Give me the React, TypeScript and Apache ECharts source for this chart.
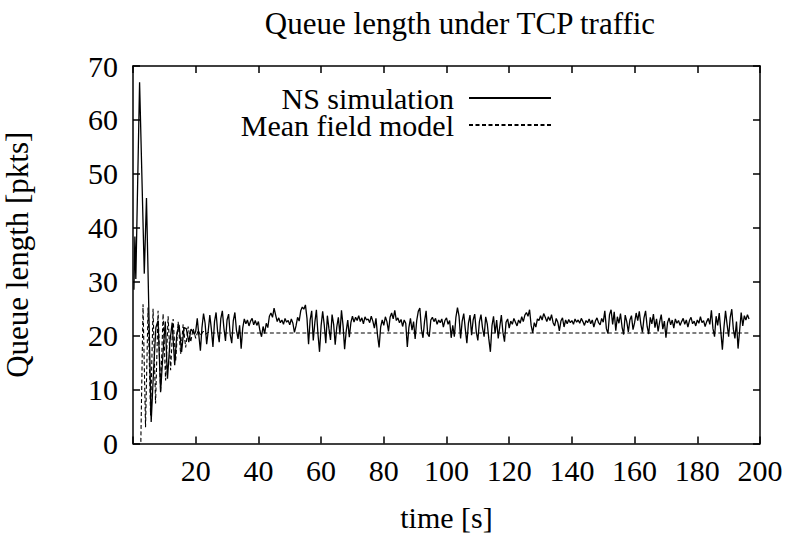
import React, { useEffect, useRef } from "react";
import * as echarts from "echarts";

const titleText = "Queue length under TCP traffic";
const xAxisName = "time [s]";
const yAxisName = "Queue length [pkts]";
const seriesNames = ["NS simulation", "Mean field model"];

const xMin = 0;
const xMax = 200;
const xStep = 20;
const yMin = 0;
const yMax = 70;
const yStep = 10;

// NS simulation: start-up transient (irregular sample times)
const nsTransientTime = [0.3, 0.6, 0.9, 2.1, 3.6, 4.3, 5.8, 6.6, 7.3, 8.0, 8.8, 9.6, 10.3, 11.0, 11.8, 12.5, 13.3, 14.0, 14.7, 15.5, 16.3, 17.0, 17.8, 18.5, 19.2, 19.6];
const nsTransientValue = [28.5, 38.4, 30.5, 67.0, 31.5, 45.5, 4.0, 14.0, 21.5, 22.8, 9.5, 17.0, 22.6, 12.0, 19.0, 22.4, 14.5, 20.5, 22.0, 17.0, 21.5, 21.3, 18.8, 21.2, 20.7, 20.2];

// NS simulation: steady part, one sample every 0.5 s from t = 20 s
const nsSteadyStart = 20;
const nsSteadyStep = 0.5;
const nsSteadyValue = [
  20.8, 23.2, 20.1, 17.2, 21.5, 24.1, 22.3, 18.4, 20.9, 23.8, 21.2, 17.9, 22.6, 24.3, 20.7, 18.8, 23.1, 24.6, 21.4, 19.0,
  22.9, 24.0, 20.2, 18.6, 22.8, 24.3, 21.0, 19.4, 21.9, 17.6, 21.4, 23.1, 22.2, 22.9, 21.8, 22.7, 23.2, 22.0, 22.8, 21.9,
  22.6, 20.9, 19.8, 21.7, 20.4, 22.3, 21.5, 23.6, 24.2, 23.4, 25.1, 23.8, 22.6, 23.3, 22.4, 22.9, 22.1, 23.2, 22.5, 22.8,
  22.0, 23.1, 22.3, 20.6, 21.8, 23.4, 22.7, 24.6, 25.3, 24.9, 25.7, 23.2, 18.4, 22.9, 24.6, 19.1, 22.4, 24.8, 20.3, 17.0,
  21.8, 24.5, 22.0, 18.6, 23.7, 21.3, 19.2, 23.9, 22.1, 18.3, 21.6, 23.4, 20.2, 24.7, 21.9, 17.5, 20.8, 22.9, 19.7, 22.4,
  23.6, 22.5, 23.4, 22.8, 23.7, 22.6, 23.3, 22.2, 23.5, 22.9, 23.1, 22.4, 23.6, 22.7, 21.4, 23.2, 20.1, 17.8, 21.6, 22.9,
  21.9, 23.5, 22.6, 20.8, 23.4, 24.2, 23.1, 24.7, 22.8, 23.3, 22.4, 23.0, 21.7, 22.9, 22.3, 17.9, 21.5, 23.2, 21.0, 22.6,
  19.4, 22.8, 24.5, 25.1, 21.2, 19.6, 22.7, 24.6, 20.3, 19.8, 22.9, 23.4, 22.6, 23.2, 22.1, 22.9, 22.4, 23.1, 21.6, 22.8,
  23.3, 22.1, 22.8, 19.6, 21.9, 19.8, 23.4, 25.2, 23.6, 19.5, 22.7, 24.1, 21.2, 18.6, 22.3, 23.8, 20.1, 22.9, 24.0, 20.7,
  19.1, 22.6, 23.9, 21.4, 19.8, 23.5, 22.2, 19.4, 17.0, 21.8, 23.6, 20.4, 22.9, 19.5, 21.7, 23.8, 20.6, 18.9, 22.5, 23.1,
  21.4, 22.7, 22.1, 23.2, 22.5, 21.8, 22.9, 22.3, 23.5, 22.6, 23.8, 24.3, 23.6, 24.8, 21.9, 20.5, 22.4, 21.6, 23.1, 22.8,
  23.7, 22.9, 24.1, 23.4, 22.6, 23.5, 22.8, 23.9, 22.4, 21.8, 23.2, 22.5, 20.9, 22.7, 23.3, 21.6, 22.9, 22.2, 23.0, 22.4,
  22.8, 22.1, 23.1, 22.5, 22.9, 22.3, 23.2, 22.6, 21.9, 22.8, 22.4, 23.1, 22.2, 22.9, 21.6, 22.7, 23.3, 22.4, 22.0, 23.2,
  22.5, 24.6, 21.3, 20.4, 23.9, 24.8, 22.1, 24.4, 20.9, 23.5, 22.3, 24.1, 21.6, 20.2, 23.8, 22.6, 20.7, 22.9, 23.7, 21.1,
  22.4, 24.2, 22.8, 24.5, 22.1, 20.6, 23.3, 24.6, 21.7, 20.3, 23.4, 22.2, 24.0, 21.5, 23.1, 20.8, 22.6, 23.9, 21.2, 22.7,
  19.6, 22.4, 23.3, 22.0, 22.9, 21.4, 23.1, 22.3, 22.8, 21.9, 22.6, 23.2, 22.1, 22.9, 21.6, 22.8, 23.4, 22.2, 22.7, 21.8,
  22.9, 22.3, 23.5, 22.4, 22.8, 21.7, 22.6, 23.2, 22.1, 24.7, 21.3, 19.8, 23.6, 21.9, 24.2, 20.8, 17.4, 21.5, 24.6, 22.1,
  19.8, 23.4, 24.9, 21.2, 19.5, 22.6, 17.6, 20.9, 24.3, 21.8, 23.7, 22.9, 23.9, 23.1,
];

// Mean field model
const mfTime = [2.5, 3.2, 4.0, 4.8, 5.6, 6.4, 7.2, 8.0, 8.8, 9.6, 10.4, 11.2, 12.0, 12.8, 13.6, 14.4, 15.2, 16.0, 16.8, 17.6, 18.4, 19.2, 20.0, 20.8, 21.6, 22.4, 23.2, 24.0, 25.0, 197.0];
const mfValue = [0.3, 25.8, 3.0, 25.2, 5.2, 25.0, 7.4, 24.6, 9.6, 24.1, 11.7, 23.6, 13.6, 23.1, 15.2, 22.6, 16.6, 22.1, 17.8, 21.7, 18.8, 21.3, 19.5, 21.0, 20.0, 20.8, 20.3, 20.6, 20.5, 20.5];

const FONT = "'Liberation Serif', 'Times New Roman', serif";

export default function App() {
  const ref = useRef<HTMLDivElement>(null);
  useEffect(() => {
    if (!ref.current) return;
    document.body.style.margin = "0";
    const chart = echarts.init(ref.current, undefined, { renderer: "svg" });

    const nsData: number[][] = [];
    nsTransientTime.forEach((t, i) => nsData.push([t, nsTransientValue[i]]));
    nsSteadyValue.forEach((v, i) => nsData.push([nsSteadyStart + i * nsSteadyStep, v]));
    const mfData = mfTime.map((t, i) => [t, mfValue[i]]);

    const axisLineStyle = { color: "#000", width: 1.5 };
    const tickStyle = { color: "#000", width: 1.5 };

    const legendBase = {
      orient: "horizontal" as const,
      align: "right" as const,
      right: 236,
      padding: 0,
      itemWidth: 82,
      itemHeight: 12,
      itemStyle: { opacity: 0, color: "transparent", borderWidth: 0 },
      textStyle: { fontFamily: FONT, fontSize: 30, lineHeight: 24, color: "#000", padding: [0, 10, 0, 0] },
    };

    chart.setOption({
      animation: false,
      backgroundColor: "#fff",
      title: {
        text: titleText,
        left: 455,
        top: 3,
        textAlign: "center",
        textStyle: { fontFamily: FONT, fontSize: 31, fontWeight: "normal", color: "#000" },
      },
      legend: [
        { ...legendBase, data: [seriesNames[0]], top: 83 },
        { ...legendBase, data: [seriesNames[1]], top: 110 },
      ],
      grid: { left: 133, right: 28, top: 66, bottom: 92.5, show: false, outerBoundsMode: "none", containLabel: false },
      xAxis: [
        {
          type: "value",
          min: xMin,
          max: xMax,
          interval: xStep,
          position: "bottom",
          name: xAxisName,
          nameLocation: "middle",
          nameGap: 59,
          nameTextStyle: { fontFamily: FONT, fontSize: 30, color: "#000" },
          axisLine: { show: true, onZero: false, lineStyle: axisLineStyle },
          axisTick: { show: true, inside: true, length: 7, lineStyle: tickStyle },
          axisLabel: {
            margin: 12,
            fontFamily: FONT,
            fontSize: 30,
            color: "#000",
            formatter: (v: number) => (v === 0 ? "" : String(v)),
          },
          splitLine: { show: false },
        },
        {
          type: "value",
          min: xMin,
          max: xMax,
          interval: xStep,
          position: "top",
          axisLine: { show: true, onZero: false, lineStyle: axisLineStyle },
          axisTick: { show: true, inside: true, length: 7, lineStyle: tickStyle },
          axisLabel: { show: false },
          splitLine: { show: false },
        },
      ],
      yAxis: [
        {
          type: "value",
          min: yMin,
          max: yMax,
          interval: yStep,
          position: "left",
          name: yAxisName,
          nameLocation: "middle",
          nameGap: 100,
          nameTextStyle: { fontFamily: FONT, fontSize: 31, color: "#000" },
          axisLine: { show: true, onZero: false, lineStyle: axisLineStyle },
          axisTick: { show: true, inside: true, length: 7, lineStyle: tickStyle },
          axisLabel: { margin: 15, fontFamily: FONT, fontSize: 30, color: "#000" },
          splitLine: { show: false },
        },
        {
          type: "value",
          min: yMin,
          max: yMax,
          interval: yStep,
          position: "right",
          axisLine: { show: true, onZero: false, lineStyle: axisLineStyle },
          axisTick: { show: true, inside: true, length: 7, lineStyle: tickStyle },
          axisLabel: { show: false },
          splitLine: { show: false },
        },
      ],
      series: [
        {
          name: seriesNames[0],
          type: "line",
          data: nsData,
          showSymbol: false,
          symbol: "none",
          lineStyle: { color: "#000", width: 1.3, type: "solid" },
          itemStyle: { color: "#000" },
          z: 2,
        },
        {
          name: seriesNames[1],
          type: "line",
          data: mfData,
          showSymbol: false,
          symbol: "none",
          lineStyle: { color: "#000", width: 1.1, type: [4, 2.5] },
          itemStyle: { color: "#000" },
          z: 3,
        },
      ],
    });
    return () => chart.dispose();
  }, []);
  return <div ref={ref} style={{ width: 788, height: 536 }} />;
}
